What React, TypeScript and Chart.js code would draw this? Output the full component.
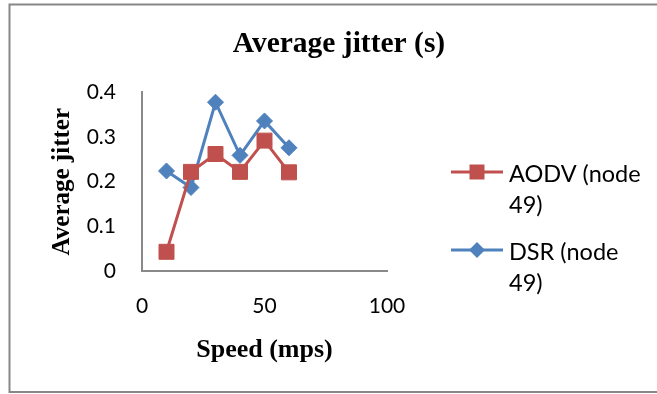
import React, { useEffect, useRef } from "react";
import { Chart, registerables } from "chart.js";

Chart.register(...registerables);

const speeds = [10, 20, 30, 40, 50, 60];
const aodvJitter = [0.043, 0.222, 0.262, 0.222, 0.292, 0.221];
const dsrJitter = [0.224, 0.187, 0.378, 0.259, 0.336, 0.276];
const seriesLabels = ["AODV (node 49)", "DSR (node 49)"];
const xTicks = [0, 50, 100];
const yTicks = [0, 0.1, 0.2, 0.3, 0.4];

const RED = "#C0504D";
const BLUE = "#4F81BD";
const AXIS = "#898989";
const TICK_FONT = { family: "Lato", size: 21 };
const LEGEND_FONT = { family: "Lato", size: 23.5 };

const framePlugin = {
  id: "frame",
  beforeDraw(chart: any) {
    const ctx = chart.ctx;
    ctx.save();
    ctx.fillStyle = "#ffffff";
    ctx.fillRect(0, 0, chart.width, chart.height);
    ctx.strokeStyle = "#878787";
    ctx.lineWidth = 2;
    ctx.strokeRect(9.5, 4.5, 720, 387.5);
    ctx.restore();
  },
};

function drawMarker(ctx: CanvasRenderingContext2D, style: string, r: number, x: number, y: number) {
  ctx.beginPath();
  if (style === "rect") {
    const h = r * Math.SQRT1_2;
    ctx.rect(x - h, y - h, 2 * h, 2 * h);
  } else {
    ctx.moveTo(x, y - r);
    ctx.lineTo(x + r, y);
    ctx.lineTo(x, y + r);
    ctx.lineTo(x - r, y);
    ctx.closePath();
  }
  ctx.fill();
}

const legendPlugin = {
  id: "wrapLegend",
  afterDraw(chart: any) {
    const ctx = chart.ctx;
    const x0 = 451;
    const x1 = 503;
    const textX = 509;
    const lineH = 31;
    const maxW = 140;
    let y = 172;
    ctx.save();
    ctx.font = `${LEGEND_FONT.size}px ${LEGEND_FONT.family}`;
    ctx.textBaseline = "middle";
    ctx.textAlign = "left";
    chart.data.datasets.forEach((ds: any) => {
      const words = String(ds.label).split(" ");
      const lines: string[] = [];
      let cur = "";
      words.forEach((w) => {
        const t = cur ? cur + " " + w : w;
        if (ctx.measureText(t).width > maxW && cur) {
          lines.push(cur);
          cur = w;
        } else cur = t;
      });
      if (cur) lines.push(cur);
      ctx.strokeStyle = ds.borderColor;
      ctx.lineWidth = ds.borderWidth;
      ctx.beginPath();
      ctx.moveTo(x0, y);
      ctx.lineTo(x1, y);
      ctx.stroke();
      ctx.fillStyle = ds.backgroundColor;
      drawMarker(ctx, ds.pointStyle, ds.pointRadius, (x0 + x1) / 2, y);
      ctx.fillStyle = "#000000";
      lines.forEach((l, i) => ctx.fillText(l, textX, y + 2 + i * lineH));
      y += lines.length * lineH + 16;
    });
    ctx.restore();
  },
};

export default function App() {
  const ref = useRef<HTMLCanvasElement | null>(null);
  useEffect(() => {
    document.body.style.margin = "0";
    const canvas = ref.current!;
    const chart = new Chart(canvas, {
      type: "line",
      data: {
        datasets: [
          {
            label: seriesLabels[0],
            data: speeds.map((x, i) => ({ x, y: aodvJitter[i] })),
            borderColor: RED,
            backgroundColor: RED,
            borderWidth: 3,
            pointStyle: "rect",
            pointRadius: 10.6,
            pointBorderWidth: 1,
            tension: 0,
          },
          {
            label: seriesLabels[1],
            data: speeds.map((x, i) => ({ x, y: dsrJitter[i] })),
            borderColor: BLUE,
            backgroundColor: BLUE,
            borderWidth: 3,
            pointStyle: "rectRot",
            pointRadius: 8,
            pointBorderWidth: 1,
            tension: 0,
          },
        ],
      },
      options: {
        animation: false,
        responsive: false,
        layout: { padding: { left: 21, right: 0, top: 0, bottom: 0 } },
        plugins: {
          legend: { display: false },
          tooltip: { enabled: false },
          title: {
            display: true,
            text: "Average jitter (s)",
            color: "#000",
            font: { family: "Liberation Serif", weight: "bold", size: 29.5 },
            padding: { top: 27, bottom: 30 },
          },
        },
        scales: {
          x: {
            type: "linear",
            min: xTicks[0],
            max: xTicks[xTicks.length - 1],
            afterBuildTicks: (s: any) => {
              s.ticks = xTicks.map((v) => ({ value: v }));
            },
            ticks: { color: "#000", font: TICK_FONT, padding: 23 },
            grid: { display: false, drawTicks: false },
            border: { color: AXIS, width: 2 },
            title: {
              display: true,
              text: "Speed (mps)",
              color: "#000",
              font: { family: "Liberation Serif", weight: "bold", size: 26 },
              padding: { top: 0, bottom: 28 },
            },
            afterFit: (s: any) => {
              s.height = 123;
            },
          },
          y: {
            type: "linear",
            min: yTicks[0],
            max: yTicks[yTicks.length - 1],
            afterBuildTicks: (s: any) => {
              s.ticks = yTicks.map((v) => ({ value: v }));
            },
            ticks: { color: "#000", font: TICK_FONT, padding: 26 },
            grid: { display: false, drawTicks: false },
            border: { color: AXIS, width: 2 },
            title: {
              display: true,
              text: "Average jitter",
              color: "#000",
              font: { family: "Liberation Serif", weight: "bold", size: 25 },
              padding: { top: 27, bottom: 0 },
            },
            afterFit: (s: any) => {
              s.width = 121;
            },
          },
          legendSpace: {
            type: "linear",
            axis: "y",
            position: "right",
            display: true,
            grid: { display: false, drawTicks: false },
            border: { display: false },
            ticks: { display: false },
            afterFit: (s: any) => {
              s.width = 270;
            },
          },
        },
      } as any,
      plugins: [framePlugin, legendPlugin],
    });
    return () => chart.destroy();
  }, []);
  return (
    <div style={{ width: 657, height: 394, position: "relative" }}>
      <canvas ref={ref} width={657} height={394} style={{ display: "block" }} />
    </div>
  );
}
